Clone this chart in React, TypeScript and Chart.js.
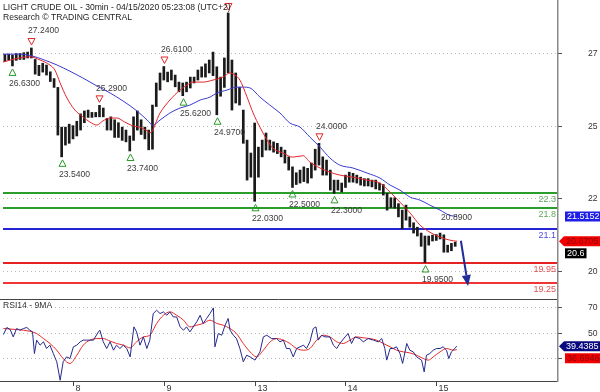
import React, { useEffect, useRef } from "react";
import { Chart, registerables } from "chart.js";

Chart.register(...registerables);

const FONT_FAMILY = '"Liberation Sans", Arial, Helvetica, sans-serif';
const font = (px: number) => `${px}px ${FONT_FAMILY}`;

// ---------------- data ----------------
const TITLE_LINE_1 = "LIGHT CRUDE OIL - 30min - 04/15/2020 05:23:08 (UTC+2)";
const TITLE_LINE_2 = "Research © TRADING CENTRAL";
const RSI_TITLE = "RSI14 - 9MA";

// x axis: hours counted from the start of the Apr 7 session
const X_MIN = 5.5;
const X_MAX = 151.9;
const DAY_TICK_HOURS = [24, 48, 72, 96, 120];
const DAY_TICK_LABELS = ["8", "9", "13", "14", "15"];

const PRICE_MIN = 18.71;
const PRICE_MAX = 28.87;
const PRICE_TICKS = [19.66, 22.13, 24.6, 27.07];

const RSI_MIN = 12.4;
const RSI_MAX = 76;
const RSI_TICKS = [30, 50, 70];

// hourly high/low ranges, starting at hour 6
const BAR_FIRST_HOUR = 6;
const BAR_HIGH = [
  27.02, 27.03, 27.0, 27.05, 27.05, 27.08, 27.1, 27.24, 26.85, 26.65,
  26.72, 26.66, 26.43, 26.2, 25.9, 24.55, 24.55, 24.65, 24.6, 24.75,
  25.0, 25.1, 25.13, 25.05, 25.05, 25.29, 25.2, 24.85, 24.9, 24.8,
  24.7, 24.55, 24.45, 24.25, 24.9, 25.1, 24.8, 24.55, 24.45, 25.3,
  26.05, 26.39, 26.61, 26.42, 26.49, 26.32, 26.08, 26.05, 26.08, 26.25,
  26.25, 26.49, 26.6, 26.7, 26.83, 27.1, 26.6, 26.25, 26.9, 28.43,
  26.83, 26.39, 25.9, 25.13, 24.11, 23.67, 24.69, 23.87, 24.11, 24.35,
  24.11, 24.05, 24.0, 23.87, 23.77, 23.54, 23.2, 23.0, 23.09, 23.2,
  23.15, 23.33, 23.8, 24.0, 23.54, 23.43, 23.09, 22.75, 22.75, 22.65,
  22.92, 23.02, 22.98, 22.92, 22.85, 22.8, 22.8, 22.75, 22.75, 22.65,
  22.6, 22.3, 22.15, 22.15, 21.95, 21.73, 21.9, 21.5, 21.3, 21.15,
  20.95, 20.85, 20.85, 20.88, 20.9, 20.95, 20.89, 20.54, 20.6, 20.64,
];
const BAR_LOW = [
  26.78, 26.83, 26.63, 26.82, 26.85, 26.85, 26.9, 26.9, 26.35, 26.3,
  26.42, 26.32, 26.1, 25.9, 24.28, 23.54, 23.94, 24.0, 24.15, 24.25,
  24.45, 24.7, 24.88, 24.88, 24.9, 24.9, 24.9, 24.45, 24.45, 24.2,
  24.2, 24.1, 24.05, 23.74, 24.1, 24.45, 24.3, 24.15, 23.78, 23.8,
  25.25, 25.81, 26.15, 26.09, 26.15, 25.92, 25.75, 25.62, 25.75, 25.88,
  26.05, 26.15, 26.25, 26.25, 26.39, 26.3, 24.97, 25.6, 25.9, 26.4,
  25.13, 25.37, 25.3, 24.0, 22.75, 22.85, 22.03, 22.85, 23.54, 23.77,
  23.77, 23.7, 23.65, 23.54, 23.33, 23.09, 22.5, 22.6, 22.65, 22.7,
  22.65, 22.82, 23.09, 23.26, 22.92, 22.92, 22.41, 22.3, 22.41, 22.35,
  22.5, 22.68, 22.68, 22.65, 22.58, 22.55, 22.55, 22.52, 22.45, 22.41,
  22.24, 21.73, 21.82, 21.8, 21.5, 21.1, 21.39, 21.15, 20.95, 20.85,
  20.5, 19.95, 20.54, 20.68, 20.7, 20.75, 20.3, 20.3, 20.35, 20.5,
];

const FAST_MA_HOURS = [
  5.5, 8.7, 12.6, 15.3, 17.9, 19.2, 20.6, 22.4, 24.5, 26.6, 28.5, 30.3, 31.9, 33.8, 35.6, 37.7,
  39.9, 41.7, 43.6, 44.3, 47.0, 49.6, 52.3, 54.1, 55.7, 58.3, 61.0, 63.6, 65.5, 66.8, 68.1, 70.0,
  71.6, 73.4, 75.3, 76.8, 79.5, 82.1, 84.8, 86.6, 89.3, 91.9, 94.5, 98.0, 101.7, 105.1, 107.8,
  110.4, 113.1, 115.7, 118.3, 121.0, 123.6, 125.5,
];
const FAST_MA_VALUES = [
  26.76, 26.87, 26.94, 26.83, 26.66, 26.49, 26.05, 25.54, 25.13, 24.9, 24.72, 24.62, 24.76, 24.86, 24.86, 24.72,
  24.59, 24.55, 24.42, 24.35, 25.03, 25.47, 25.81, 25.98, 26.08, 26.08, 26.15, 26.25, 26.39, 26.32, 26.15, 25.57,
  25.03, 24.55, 24.11, 23.84, 23.67, 23.53, 23.58, 23.36, 23.16, 23.02, 22.92, 22.85, 22.75, 22.65, 22.34,
  22.0, 21.63, 21.22, 20.98, 20.81, 20.71, 20.6705,
];
const SLOW_MA_HOURS = [
  5.5, 10.0, 13.4, 17.9, 19.8, 23.2, 26.6, 30.3, 33.8, 37.2, 40.9, 43.6, 45.1, 47.0, 49.6, 52.3,
  54.9, 57.6, 60.2, 62.0, 64.7, 67.3, 68.9, 70.8, 73.4, 76.0, 78.7, 81.3, 84.0, 86.6, 89.3, 91.9,
  94.5, 98.0, 101.7, 105.1, 107.8, 110.4, 113.1, 115.7, 118.3, 121.0, 123.6, 125.5,
];
const SLOW_MA_VALUES = [
  27.03, 27.03, 26.96, 26.76, 26.66, 26.45, 26.22, 25.95, 25.71, 25.44, 25.1, 24.79, 24.62, 24.79, 25.03, 25.2,
  25.3, 25.47, 25.57, 25.71, 25.81, 25.91, 25.91, 25.88, 25.57, 25.3, 25.03, 24.69, 24.55, 24.21, 23.87, 23.5,
  23.26, 23.16, 22.99, 22.82, 22.58, 22.41, 22.17, 22.07, 21.9, 21.73, 21.55, 21.5152,
];

const LEVEL_VALUES = [22.3, 21.8, 21.1, 19.95, 19.25];
const LEVEL_LABELS = ["22.3", "21.8", "21.1", "19.95", "19.25"];
const LEVEL_LINE_COLORS = ["#2a9d2a", "#2a9d2a", "#2424d6", "#e52222", "#ef3535"];
const LEVEL_TEXT_COLORS = ["#5fa75f", "#5fa75f", "#4a4ae0", "#e35050", "#e35050"];

// swing highs (H) / lows (L); "h" = high label without marker
const PIVOT_HOURS = [8, 13, 21, 31, 39, 48, 53, 62, 65, 72, 82, 89, 93, 117, 122];
const PIVOT_VALUES = [26.63, 27.24, 23.54, 25.29, 23.74, 26.61, 25.62, 24.97, 28.43, 22.03, 22.5, 24.0, 22.3, 19.95, 20.89];
const PIVOT_KINDS = ["L", "H", "L", "H", "L", "H", "L", "L", "H", "L", "L", "H", "L", "L", "h"];

const ARROW_FROM = [126.5, 20.69];
const ARROW_TO = [128.4, 19.15];

const LAST_PRICE = 20.6;
const FAST_MA_LAST = 20.6705;
const SLOW_MA_LAST = 21.5152;

const RSI_HOURS = [
  5.6, 6.5, 7.4, 8.2, 9.1, 10.0, 10.9, 11.8, 12.6, 13.3, 13.8, 14.4, 15.3, 16.2, 17.0, 17.9,
  18.8, 19.7, 20.6, 21.4, 22.3, 23.2, 24.1, 25.0, 25.9, 26.7, 27.6, 29.4, 30.7, 31.1, 32.0, 32.9,
  33.8, 34.7, 35.5, 36.4, 37.3, 38.2, 39.1, 40.1, 40.8, 41.7, 42.6, 43.5, 44.3, 45.2, 46.1, 47.0,
  47.9, 48.8, 49.6, 50.5, 51.4, 52.3, 53.2, 54.0, 54.9, 55.8, 56.7, 57.6, 58.4, 59.3, 60.2, 61.1,
  61.5, 62.4, 63.3, 64.2, 65.0, 65.5, 66.4, 67.2, 68.1, 69.0, 69.9, 70.8, 72.1, 73.4, 74.3, 75.2,
  76.5, 77.8, 78.7, 79.6, 80.4, 81.3, 82.2, 83.1, 84.0, 84.9, 85.7, 86.6, 87.5, 88.2, 88.8, 89.7,
  90.6, 91.9, 92.8, 93.7, 94.5, 95.9, 96.7, 97.6, 98.5, 99.8, 100.7, 102.0, 103.4, 104.7, 105.6, 106.4,
  106.9, 107.8, 108.6, 109.5, 110.4, 111.1, 112.2, 113.0, 113.9, 114.8, 116.1, 116.8, 117.4, 118.3, 119.2, 120.1,
  121.0, 121.8, 122.7, 123.3, 124.0, 124.9, 125.4,
];
const RSI_VALUES = [
  48.4, 53.9, 52.3, 46.6, 53.1, 51.8, 53.1, 53.9, 51.8, 50.5, 33.7, 44.1, 40.2, 42.8, 37.6, 40.2,
  33.7, 27.3, 13.0, 27.3, 31.1, 29.8, 38.9, 40.2, 42.8, 44.1, 44.1, 44.1, 50.5, 51.8, 42.8, 37.6,
  42.8, 36.3, 40.2, 37.6, 40.2, 37.6, 31.1, 54.4, 50.5, 40.2, 46.6, 37.6, 44.1, 64.7, 67.3, 64.7,
  66.0, 63.4, 66.0, 62.1, 62.1, 54.4, 51.8, 54.4, 50.5, 54.4, 58.3, 63.4, 57.0, 60.9, 64.7, 69.1,
  38.9, 49.2, 47.9, 55.7, 60.9, 51.8, 47.9, 45.3, 37.6, 27.3, 32.4, 31.1, 28.6, 35.0, 46.6, 47.9,
  45.3, 45.3, 42.8, 44.1, 37.6, 37.6, 31.1, 37.6, 38.9, 40.2, 37.6, 42.8, 53.1, 54.4, 44.1, 47.9,
  46.6, 46.6, 40.2, 37.6, 41.5, 46.6, 49.2, 41.5, 46.6, 45.3, 42.8, 45.3, 44.1, 42.8, 45.3, 37.6,
  28.6, 37.6, 37.6, 38.9, 33.7, 26.0, 41.5, 36.3, 35.0, 31.1, 28.6, 19.5, 32.4, 33.7, 36.3, 37.6,
  37.6, 38.9, 36.3, 29.8, 35.0, 37.6, 39.4385,
];
const RSI_MA_HOURS = [
  5.6, 9.1, 12.6, 14.4, 16.2, 17.9, 19.7, 21.4, 23.2, 25.0, 26.7, 28.5, 30.3, 32.0, 33.8, 35.5,
  37.3, 39.1, 40.8, 42.6, 44.3, 46.1, 47.9, 49.6, 51.4, 53.2, 54.9, 56.7, 58.4, 60.2, 62.0, 63.7,
  65.5, 67.2, 69.0, 70.8, 72.5, 74.3, 76.1, 77.8, 79.6, 81.3, 83.1, 84.9, 86.6, 88.4, 90.1, 91.9,
  93.7, 95.4, 97.2, 99.0, 100.7, 102.5, 104.2, 106.0, 107.8, 109.5, 111.3, 113.0, 114.8, 116.6, 117.9,
  119.2, 121.0, 122.7, 124.5, 125.4,
];
const RSI_MA_VALUES = [
  53.1, 52.3, 51.0, 49.2, 45.3, 41.5, 36.3, 29.8, 26.0, 32.4, 40.2, 44.1, 45.3, 45.3, 43.3, 41.5,
  40.2, 38.1, 42.8, 46.6, 47.9, 57.0, 63.4, 66.0, 63.4, 59.6, 54.4, 55.7, 57.0, 59.6, 57.0, 55.7,
  53.0, 49.2, 41.5, 35.0, 31.1, 36.3, 42.8, 45.3, 44.1, 41.5, 37.6, 36.3, 37.6, 44.1, 47.9, 46.6,
  42.8, 41.5, 44.1, 46.6, 45.9, 45.3, 44.1, 41.5, 38.9, 36.3, 35.0, 34.2, 32.4, 29.8, 28.6,
  31.1, 35.0, 37.6, 36.3, 36.6946,
];
const RSI_LAST = 39.4385;
const RSI_MA_LAST = 36.6946;

// ---------------- drawing helpers ----------------
type Tag = { y: number; text: string; bg: string; fg: string; arrow: boolean };

function hline(ctx: CanvasRenderingContext2D, x1: number, x2: number, y: number) {
  ctx.beginPath();
  ctx.moveTo(x1, y);
  ctx.lineTo(x2, y);
  ctx.stroke();
}

function drawTags(ctx: CanvasRenderingContext2D, right: number, tags: Tag[]) {
  const sorted = [...tags].sort((a, b) => a.y - b.y);
  let prevBottom = -Infinity;
  ctx.font = font(9);
  ctx.textBaseline = "middle";
  ctx.textAlign = "left";
  for (const t of sorted) {
    const yc = Math.max(t.y, prevBottom + 7);
    const tw = ctx.measureText(t.text).width;
    ctx.fillStyle = t.bg;
    ctx.beginPath();
    if (t.arrow) {
      ctx.moveTo(right + 2, yc);
      ctx.lineTo(right + 7, yc - 5);
      ctx.lineTo(right + 45, yc - 5);
      ctx.lineTo(right + 45, yc + 5);
      ctx.lineTo(right + 7, yc + 5);
      ctx.closePath();
    } else {
      ctx.rect(right + 8, yc - 5, tw + 4, 10);
    }
    ctx.fill();
    ctx.fillStyle = t.fg;
    ctx.fillText(t.text, right + (t.arrow ? 9 : 10), yc + 0.5);
    prevBottom = yc + 5;
  }
}

function drawRightAxis(ctx: CanvasRenderingContext2D, right: number, top: number, bottom: number, ticks: number[], toY: (v: number) => number) {
  ctx.strokeStyle = "#8a8a8a";
  ctx.lineWidth = 1.5;
  ctx.beginPath();
  ctx.moveTo(right + 0.75, top);
  ctx.lineTo(right + 0.75, bottom);
  ctx.stroke();
  ctx.strokeStyle = "#555";
  ctx.lineWidth = 1;
  ctx.font = font(8.6);
  ctx.fillStyle = "#333";
  ctx.textAlign = "left";
  ctx.textBaseline = "middle";
  for (const v of ticks) {
    const y = Math.round(toY(v)) + 0.5;
    hline(ctx, right + 1, right + 5, y);
    ctx.fillText(String(Math.round(v)), right + 31, y);
  }
}

const pricePanel = {
  id: "pricePanel",
  beforeDatasetsDraw(chart: any) {
    const { ctx, chartArea: a, scales } = chart;
    const y = scales.y;
    ctx.save();
    ctx.strokeStyle = "#b8b8b8";
    ctx.lineWidth = 1;
    ctx.setLineDash([1, 3]);
    for (const v of PRICE_TICKS) hline(ctx, a.left, a.right, Math.round(y.getPixelForValue(v)) + 0.5);
    ctx.setLineDash([]);
    LEVEL_VALUES.forEach((v, i) => {
      ctx.strokeStyle = LEVEL_LINE_COLORS[i];
      ctx.lineWidth = 2;
      hline(ctx, a.left, a.right, Math.round(y.getPixelForValue(v)));
    });
    ctx.restore();
  },
  afterDatasetsDraw(chart: any) {
    const { ctx, chartArea: a, scales } = chart;
    const x = scales.x;
    const y = scales.y;
    ctx.save();

    // level labels
    ctx.font = font(9);
    ctx.textAlign = "right";
    ctx.textBaseline = "middle";
    LEVEL_VALUES.forEach((v, i) => {
      ctx.fillStyle = LEVEL_TEXT_COLORS[i];
      ctx.fillText(LEVEL_LABELS[i], a.right - 1, Math.round(y.getPixelForValue(v)) + 6.5);
    });

    // swing markers
    ctx.font = font(8.6);
    ctx.textAlign = "left";
    ctx.lineWidth = 1;
    PIVOT_HOURS.forEach((h, i) => {
      const px = Math.round(x.getPixelForValue(h)) + 0.5;
      const py = y.getPixelForValue(PIVOT_VALUES[i]);
      const kind = PIVOT_KINDS[i];
      const high = kind !== "L";
      if (kind === "H") {
        const cy = py - 6.5;
        ctx.strokeStyle = "#e02828";
        ctx.beginPath();
        ctx.moveTo(px - 3.5, cy - 3);
        ctx.lineTo(px + 3.5, cy - 3);
        ctx.lineTo(px, cy + 3.5);
        ctx.closePath();
        ctx.stroke();
      } else if (kind === "L") {
        const cy = py + 6.5;
        ctx.strokeStyle = "#2a9a2a";
        ctx.beginPath();
        ctx.moveTo(px, cy - 3.5);
        ctx.lineTo(px + 3.5, cy + 3);
        ctx.lineTo(px - 3.5, cy + 3);
        ctx.closePath();
        ctx.stroke();
      }
      ctx.fillStyle = "#3c3c3c";
      ctx.fillText(PIVOT_VALUES[i].toFixed(4), px - 3.5, high ? py - 17 : py + 17.5);
    });

    // projection arrow
    const x1 = x.getPixelForValue(ARROW_FROM[0]);
    const y1 = y.getPixelForValue(ARROW_FROM[1]);
    const x2 = x.getPixelForValue(ARROW_TO[0]);
    const y2 = y.getPixelForValue(ARROW_TO[1]);
    const ang = Math.atan2(y2 - y1, x2 - x1);
    const headLen = 11;
    const bx = x2 - headLen * Math.cos(ang);
    const by = y2 - headLen * Math.sin(ang);
    ctx.strokeStyle = "#1f2c9a";
    ctx.fillStyle = "#1f2c9a";
    ctx.lineWidth = 2;
    ctx.beginPath();
    ctx.moveTo(x1, y1);
    ctx.lineTo(bx, by);
    ctx.stroke();
    const nx = -Math.sin(ang) * 4.5;
    const ny = Math.cos(ang) * 4.5;
    ctx.beginPath();
    ctx.moveTo(x2, y2);
    ctx.lineTo(bx + nx, by + ny);
    ctx.lineTo(bx - nx, by - ny);
    ctx.closePath();
    ctx.fill();

    // title
    ctx.font = font(8.6);
    ctx.fillStyle = "#1e1e1e";
    ctx.textAlign = "left";
    ctx.textBaseline = "alphabetic";
    ctx.fillText(TITLE_LINE_1, 3, 9.5);
    ctx.fillText(TITLE_LINE_2, 3, 19.5);

    // right axis
    drawRightAxis(ctx, a.right, 0, chart.height, PRICE_TICKS, (v) => y.getPixelForValue(v));

    drawTags(ctx, a.right, [
      { y: y.getPixelForValue(SLOW_MA_LAST), text: String(SLOW_MA_LAST), bg: "#1e1ee8", fg: "#ffffff", arrow: false },
      { y: y.getPixelForValue(FAST_MA_LAST), text: String(FAST_MA_LAST), bg: "#f20000", fg: "#8c0000", arrow: true },
      { y: y.getPixelForValue(LAST_PRICE), text: String(LAST_PRICE), bg: "#000000", fg: "#ffffff", arrow: false },
    ]);
    ctx.restore();
  },
};

const rsiPanel = {
  id: "rsiPanel",
  beforeDatasetsDraw(chart: any) {
    const { ctx, chartArea: a, scales } = chart;
    const y = scales.y;
    ctx.save();
    ctx.strokeStyle = "#b8b8b8";
    ctx.lineWidth = 1;
    ctx.setLineDash([1, 3]);
    for (const v of RSI_TICKS) hline(ctx, a.left, a.right, Math.round(y.getPixelForValue(v)) + 0.5);
    ctx.restore();
  },
  afterDatasetsDraw(chart: any) {
    const { ctx, chartArea: a, scales } = chart;
    const x = scales.x;
    const y = scales.y;
    ctx.save();
    // panel borders
    ctx.strokeStyle = "#444";
    ctx.lineWidth = 1;
    hline(ctx, 0, a.right, 0.5);
    hline(ctx, 0, a.right, a.bottom + 0.5);

    drawRightAxis(ctx, a.right, 0, a.bottom + 1, RSI_TICKS, (v) => y.getPixelForValue(v));

    // x ticks
    ctx.strokeStyle = "#444";
    ctx.lineWidth = 1;
    ctx.font = font(9);
    ctx.fillStyle = "#333";
    ctx.textAlign = "left";
    ctx.textBaseline = "alphabetic";
    DAY_TICK_HOURS.forEach((h, i) => {
      const px = Math.round(x.getPixelForValue(h)) + 0.5;
      ctx.beginPath();
      ctx.moveTo(px, a.bottom + 1);
      ctx.lineTo(px, a.bottom + 5);
      ctx.stroke();
      ctx.fillText(DAY_TICK_LABELS[i], px + 2, a.bottom + 9.5);
    });

    ctx.font = font(8.6);
    ctx.textBaseline = "middle";
    ctx.fillStyle = "#333";
    ctx.fillText(RSI_TITLE, 3, 6.5);

    drawTags(ctx, a.right, [
      { y: y.getPixelForValue(RSI_LAST), text: String(RSI_LAST), bg: "#0a0a80", fg: "#ffffff", arrow: true },
      { y: y.getPixelForValue(RSI_MA_LAST), text: String(RSI_MA_LAST), bg: "#f20000", fg: "#8c0000", arrow: false },
    ]);
    ctx.restore();
  },
};

const baseOptions = (yMin: number, yMax: number, bottomPad: number) => ({
  responsive: false,
  animation: false as const,
  devicePixelRatio: 1,
  events: [] as any[],
  layout: { padding: { left: 3, right: 43, top: 0, bottom: bottomPad } },
  plugins: { legend: { display: false }, tooltip: { enabled: false } },
  scales: {
    x: { type: "linear" as const, min: X_MIN, max: X_MAX, display: false, offset: false },
    y: { type: "linear" as const, min: yMin, max: yMax, display: false },
  },
});

export default function App() {
  const priceRef = useRef<HTMLCanvasElement>(null);
  const rsiRef = useRef<HTMLCanvasElement>(null);

  useEffect(() => {
    const price = new Chart(priceRef.current as HTMLCanvasElement, {
      type: "bar",
      data: {
        datasets: [
          {
            type: "line",
            label: "Fast MA",
            data: FAST_MA_HOURS.map((h, i) => ({ x: h, y: FAST_MA_VALUES[i] })),
            borderColor: "#e3262b",
            borderWidth: 1,
            pointRadius: 0,
            cubicInterpolationMode: "monotone",
            order: 1,
          },
          {
            type: "line",
            label: "Slow MA",
            data: SLOW_MA_HOURS.map((h, i) => ({ x: h, y: SLOW_MA_VALUES[i] })),
            borderColor: "#3a3ad2",
            borderWidth: 1,
            pointRadius: 0,
            cubicInterpolationMode: "monotone",
            order: 2,
          },
          {
            type: "bar",
            label: "Price",
            data: BAR_HIGH.map((hi, i) => ({ x: BAR_FIRST_HOUR + i, y: [BAR_LOW[i], hi] })),
            backgroundColor: "#1a1a1a",
            borderWidth: 0,
            borderSkipped: false,
            barThickness: 2,
            grouped: false,
            order: 3,
          },
        ] as any,
      },
      options: baseOptions(PRICE_MIN, PRICE_MAX, 0) as any,
      plugins: [pricePanel],
    });

    const rsi = new Chart(rsiRef.current as HTMLCanvasElement, {
      type: "line",
      data: {
        datasets: [
          {
            label: "RSI14",
            data: RSI_HOURS.map((h, i) => ({ x: h, y: RSI_VALUES[i] })),
            borderColor: "#24298c",
            borderWidth: 1,
            pointRadius: 0,
            tension: 0,
          },
          {
            label: "9MA",
            data: RSI_MA_HOURS.map((h, i) => ({ x: h, y: RSI_MA_VALUES[i] })),
            borderColor: "#e52a2a",
            borderWidth: 1,
            pointRadius: 0,
            cubicInterpolationMode: "monotone",
          },
        ] as any,
      },
      options: baseOptions(RSI_MIN, RSI_MAX, 11) as any,
      plugins: [rsiPanel],
    });

    return () => {
      price.destroy();
      rsi.destroy();
    };
  }, []);

  return (
    <div style={{ position: "absolute", left: 0, top: 0, width: 600, height: 392, background: "#ffffff" }}>
      <canvas
        ref={priceRef}
        width={600}
        height={299}
        style={{ position: "absolute", left: 0, top: 0, width: 600, height: 299 }}
      />
      <canvas
        ref={rsiRef}
        width={600}
        height={93}
        style={{ position: "absolute", left: 0, top: 299, width: 600, height: 93 }}
      />
    </div>
  );
}
